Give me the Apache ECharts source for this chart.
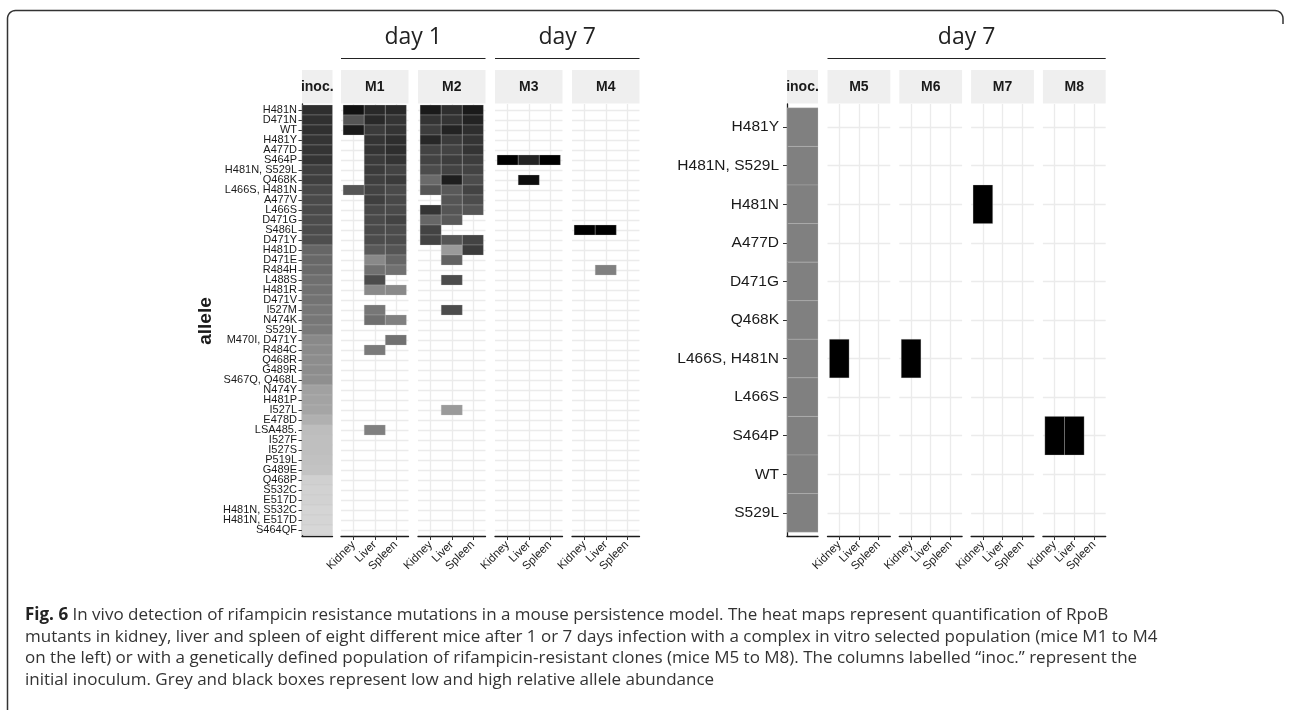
<!DOCTYPE html>
<html><head><meta charset="utf-8">
<script src="https://cdn.jsdelivr.net/npm/echarts@6/dist/echarts.min.js"></script>
<style>html,body{margin:0;padding:0;background:#fff}#c{width:1290px;height:710px}</style>
</head><body><div id="c"></div>
<script>
const _ = null;
// ---- categories ----
const allelesLeft = ['H481N','D471N','WT','H481Y','A477D','S464P','H481N, S529L','Q468K','L466S, H481N','A477V',
  'L466S','D471G','S486L','D471Y','H481D','D471E','R484H','L488S','H481R','D471V',
  'I527M','N474K','S529L','M470I, D471Y','R484C','Q468R','G489R','S467Q, Q468L','N474Y','H481P',
  'I527L','E478D','LSA485.','I527F','I527S','P519L','G489E','Q468P','S532C','E517D',
  'H481N, S532C','H481N, E517D','S464QF'];
const allelesRight = ['H481Y','H481N, S529L','H481N','A477D','D471G','Q468K','L466S, H481N','L466S','S464P','WT','S529L'];
const tissues = ['Kidney','Liver','Spleen'];
const dayGroupsLeft = ['day 1','day 7'];
const dayGroupRight = 'day 7';

// ---- relative allele abundance (0 = lightest grey, 100 = black) ----
const inocLeft = [79,78,78,76,76,76,71,71,67,66,66,65,65,64,53,52,51,49,48,47,45,45,44,37,36,35,35,34,26,25,24,19,13,12,12,11,10,4,3,3,2,2,1];
const m1Kidney = [92,61,88,_,_,_,_,_,61,_, _,_,_,_,_,_,_,_,_,_, _,_,_,_,_,_,_,_,_,_, _,_,_,_,_,_,_,_,_,_, _,_,_];
const m1Liver  = [81,81,73,76,76,73,73,71,69,71, 67,66,66,65,59,37,48,65,37,_, 45,49,_,_,44,_,_,_,_,_, _,_,41,_,_,_,_,_,_,_, _,_,_];
const m1Spleen = [81,76,76,79,79,76,69,73,66,67, 66,69,65,65,61,53,48,_,37,_, _,41,_,48,_,_,_,_,_,_, _,_,_,_,_,_,_,_,_,_, _,_,_];
const m2Kidney = [88,76,72,82,69,69,65,51,61,_, 76,53,69,69,_,_,_,_,_,_, _,_,_,_,_,_,_,_,_,_, _,_,_,_,_,_,_,_,_,_, _,_,_];
const m2Liver  = [79,76,84,73,69,72,69,86,59,61, 61,59,_,61,29,55,_,65,_,_, 65,_,_,_,_,_,_,_,_,_, 29,_,_,_,_,_,_,_,_,_, _,_,_];
const m2Spleen = [88,84,79,76,76,72,69,65,69,65, 61,_,_,69,73,_,_,_,_,_, _,_,_,_,_,_,_,_,_,_, _,_,_,_,_,_,_,_,_,_, _,_,_];
const m3Kidney = [_,_,_,_,_,100,_,_,_,_, _,_,_,_,_,_,_,_,_,_, _,_,_,_,_,_,_,_,_,_, _,_,_,_,_,_,_,_,_,_, _,_,_];
const m3Liver  = [_,_,_,_,_,84,_,94,_,_, _,_,_,_,_,_,_,_,_,_, _,_,_,_,_,_,_,_,_,_, _,_,_,_,_,_,_,_,_,_, _,_,_];
const m3Spleen = [_,_,_,_,_,100,_,_,_,_, _,_,_,_,_,_,_,_,_,_, _,_,_,_,_,_,_,_,_,_, _,_,_,_,_,_,_,_,_,_, _,_,_];
const m4Kidney = [_,_,_,_,_,_,_,_,_,_, _,_,100,_,_,_,_,_,_,_, _,_,_,_,_,_,_,_,_,_, _,_,_,_,_,_,_,_,_,_, _,_,_];
const m4Liver  = [_,_,_,_,_,_,_,_,_,_, _,_,100,_,_,_,41,_,_,_, _,_,_,_,_,_,_,_,_,_, _,_,_,_,_,_,_,_,_,_, _,_,_];
const m4Spleen = [_,_,_,_,_,_,_,_,_,_, _,_,_,_,_,_,_,_,_,_, _,_,_,_,_,_,_,_,_,_, _,_,_,_,_,_,_,_,_,_, _,_,_];

const inocRight = [41,41,41,41,41,41,41,41,41,41,41];
const m5Kidney = [_,_,_,_,_,_,100,_,_,_,_];
const m5Liver  = [_,_,_,_,_,_,_,_,_,_,_];
const m5Spleen = [_,_,_,_,_,_,_,_,_,_,_];
const m6Kidney = [_,_,_,_,_,_,100,_,_,_,_];
const m6Liver  = [_,_,_,_,_,_,_,_,_,_,_];
const m6Spleen = [_,_,_,_,_,_,_,_,_,_,_];
const m7Kidney = [_,_,100,_,_,_,_,_,_,_,_];
const m7Liver  = [_,_,_,_,_,_,_,_,_,_,_];
const m7Spleen = [_,_,_,_,_,_,_,_,_,_,_];
const m8Kidney = [_,_,_,_,_,_,_,_,100,_,_];
const m8Liver  = [_,_,_,_,_,_,_,_,100,_,_];
const m8Spleen = [_,_,_,_,_,_,_,_,_,_,_];

const captionLines = [
  '{b|Fig. 6} In vivo detection of rifampicin resistance mutations in a mouse persistence model. The heat maps represent quantification of RpoB',
  'mutants in kidney, liver and spleen of eight different mice after 1 or 7 days infection with a complex in vitro selected population (mice M1 to M4',
  'on the left) or with a genetically defined population of rifampicin-resistant clones (mice M5 to M8). The columns labelled \u201cinoc.\u201d represent the',
  'initial inoculum. Grey and black boxes represent low and high relative allele abundance'
];

// ---- layout ----
const PANEL_TOP = 104, PANEL_H = 432, STRIP_TOP = 70, STRIP_H = 33.5, EXPAND = 0.6;
const SANS = '"Liberation Sans", Arial, sans-serif';
const CAP_FONT = '"Open Sans", sans-serif';
const panels = [
  {label:'inoc.', x:302,   w:30.5, rows:allelesLeft,  cols:[inocLeft], inoc:true, side:'L'},
  {label:'M1',    x:341,   w:67.5, rows:allelesLeft,  cols:[m1Kidney,m1Liver,m1Spleen]},
  {label:'M2',    x:418,   w:67.5, rows:allelesLeft,  cols:[m2Kidney,m2Liver,m2Spleen]},
  {label:'M3',    x:495,   w:67.5, rows:allelesLeft,  cols:[m3Kidney,m3Liver,m3Spleen]},
  {label:'M4',    x:572,   w:67.5, rows:allelesLeft,  cols:[m4Kidney,m4Liver,m4Spleen]},
  {label:'inoc.', x:787,   w:31,   rows:allelesRight, cols:[inocRight], inoc:true, side:'R'},
  {label:'M5',    x:827.5, w:62.8, rows:allelesRight, cols:[m5Kidney,m5Liver,m5Spleen]},
  {label:'M6',    x:899.3, w:62.8, rows:allelesRight, cols:[m6Kidney,m6Liver,m6Spleen]},
  {label:'M7',    x:971.1, w:62.8, rows:allelesRight, cols:[m7Kidney,m7Liver,m7Spleen]},
  {label:'M8',    x:1042.9,w:62.8, rows:allelesRight, cols:[m8Kidney,m8Liver,m8Spleen]}
];

function cells(cols){
  const out = [];
  cols.forEach((arr, ci) => arr.forEach((v, ri) => { if (v !== null) out.push([ci, ri, v]); }));
  return out;
}
function renderTile(params, api){
  const x = api.value(0), y = api.value(1);
  const a = api.coord([x - 0.5, y - 0.5]), b = api.coord([x + 0.5, y + 0.5]);
  return {type:'rect',
    shape:{x:Math.min(a[0],b[0]), y:Math.min(a[1],b[1]), width:Math.abs(b[0]-a[0]), height:Math.abs(b[1]-a[1])},
    style:{fill:api.visual('color'), stroke:'rgba(200,200,200,0.45)', lineWidth:0.6}};
}
const gridLine = {show:true, lineStyle:{color:'#ebebeb', width:1.3}};
const axisLineStyle = {show:true, onZero:false, lineStyle:{color:'#1a1a1a', width:1.3}};
const grids = [], xAxes = [], yAxes = [], series = [], graphics = [];

panels.forEach((p) => {
  const nRows = p.rows.length;
  const rowIdx = p.rows.map((_, k) => k);
  const colIdx = p.cols.map((_, k) => k);
  const g = grids.length;
  grids.push({left:p.x, top:PANEL_TOP, width:p.w, height:PANEL_H, containLabel:false});
  if (p.inoc) {
    xAxes.push({gridIndex:g, type:'value', min:-0.5, max:0.5, axisLine:axisLineStyle,
      axisTick:{show:false}, axisLabel:{show:false}, splitLine:{show:false}});
    yAxes.push({gridIndex:g, type:'value', inverse:true, min:-EXPAND, max:nRows - 1 + EXPAND,
      axisLine:axisLineStyle, axisTick:{show:false}, axisLabel:{show:false}, splitLine:{show:false}});
  } else {
    xAxes.push({gridIndex:g, type:'value', min:-EXPAND, max:colIdx.length - 1 + EXPAND, axisLine:axisLineStyle,
      axisTick:{show:true, customValues:colIdx, length:4, lineStyle:{color:'#333', width:1}},
      axisLabel:{show:true, customValues:colIdx, formatter:v => tissues[v], rotate:45,
        showMinLabel:true, showMaxLabel:true, hideOverlap:false,
        fontFamily:SANS, fontSize:11.5, color:'#1a1a1a', margin:7},
      splitLine:gridLine});
    yAxes.push({gridIndex:g, type:'value', inverse:true, min:-EXPAND, max:nRows - 1 + EXPAND,
      axisLine:{show:false}, axisTick:{show:false, customValues:rowIdx}, axisLabel:{show:false},
      splitLine:gridLine});
  }
  series.push({type:'custom', xAxisIndex:g, yAxisIndex:g, renderItem:renderTile, encode:{x:0, y:1},
    data:cells(p.cols), clip:false, silent:true});

  if (p.inoc) {
    // category label axis aligned with the row centres (inset by the 0.1-unit expansion margin)
    const unit = PANEL_H / (nRows - 1 + 2 * EXPAND);
    const inset = (EXPAND - 0.5) * unit;
    const gl = grids.length;
    grids.push({left:p.x, top:PANEL_TOP + inset, width:p.w, height:PANEL_H - 2 * inset, containLabel:false});
    xAxes.push({gridIndex:gl, type:'value', show:false});
    yAxes.push({gridIndex:gl, type:'category', inverse:true, data:p.rows, boundaryGap:true,
      axisLine:{show:false},
      axisTick:{show:true, interval:0, alignWithLabel:true, length:p.side === 'L' ? 3.5 : 4, lineStyle:{color:'#333', width:1}},
      axisLabel:{show:true, interval:0, fontFamily:SANS, fontSize:p.side === 'L' ? 11 : 15.5,
        color:'#1a1a1a', margin:p.side === 'L' ? 5 : 8},
      splitLine:{show:false}});
  }
  // facet strip
  graphics.push({type:'rect', shape:{x:p.x, y:STRIP_TOP, width:p.w, height:STRIP_H}, style:{fill:'#efefef'}, silent:true});
  graphics.push({type:'text', x:p.x + p.w / 2, y:STRIP_TOP + STRIP_H / 2,
    style:{text:p.label, fontFamily:SANS, fontWeight:'bold', fontSize:14, fill:'#1a1a1a', align:'center', verticalAlign:'middle'}, silent:true});
});

// day group headers
function dayHeader(text, x0, x1){
  graphics.push({type:'line', shape:{x1:x0, y1:58.5, x2:x1, y2:58.5}, style:{stroke:'#222', lineWidth:1.2}, silent:true});
  graphics.push({type:'text', x:(x0 + x1) / 2, y:37,
    style:{text:text, fontFamily:CAP_FONT, fontSize:23, fill:'#222', align:'center', verticalAlign:'middle'}, silent:true});
}
dayHeader(dayGroupsLeft[0], panels[1].x, panels[2].x + panels[2].w);
dayHeader(dayGroupsLeft[1], panels[3].x, panels[4].x + panels[4].w);
dayHeader(dayGroupRight, panels[6].x, panels[9].x + panels[9].w);

// y axis title
graphics.push({type:'text', x:206, y:321, rotation:Math.PI / 2,
  style:{text:'allele', fontFamily:SANS, fontWeight:'bold', fontSize:19, fill:'#1a1a1a', align:'center', verticalAlign:'middle'}, silent:true});

// figure frame (top and left edges with rounded corners)
const framePts = [[7.5, 712]];
const R = 8;
for (let k = 0; k <= 8; k++) { const t = Math.PI + k * Math.PI / 16; framePts.push([7.5 + R + R * Math.cos(t), 10.5 + R + R * Math.sin(t)]); }
for (let k = 0; k <= 8; k++) { const t = 1.5 * Math.PI + k * Math.PI / 16; framePts.push([1283 - R + R * Math.cos(t), 10.5 + R + R * Math.sin(t)]); }
framePts.push([1283, 24]);
graphics.push({type:'polyline', shape:{points:framePts}, style:{fill:null, stroke:'#333', lineWidth:1.5}, silent:true});

// caption
const capY = [615, 637, 658.5, 680];
captionLines.forEach((t, k) => {
  graphics.push({type:'text', x:25, y:capY[k],
    style:{text:t, fontFamily:CAP_FONT, fontSize:17, fill:'#333', verticalAlign:'middle',
      rich:{b:{fontFamily:CAP_FONT, fontSize:17, fontWeight:'bold', fill:'#222'}}}, silent:true});
});

const chart = echarts.init(document.getElementById('c'), null, {renderer:'canvas'});
chart.setOption({
  animation:false,
  backgroundColor:'#ffffff',
  grid:grids, xAxis:xAxes, yAxis:yAxes, series:series,
  visualMap:{show:false, type:'continuous', min:0, max:100, dimension:2,
    seriesIndex:series.map((_, k) => k), inRange:{color:['#d9d9d9', '#000000']}},
  graphic:graphics
});
</script></body></html>
